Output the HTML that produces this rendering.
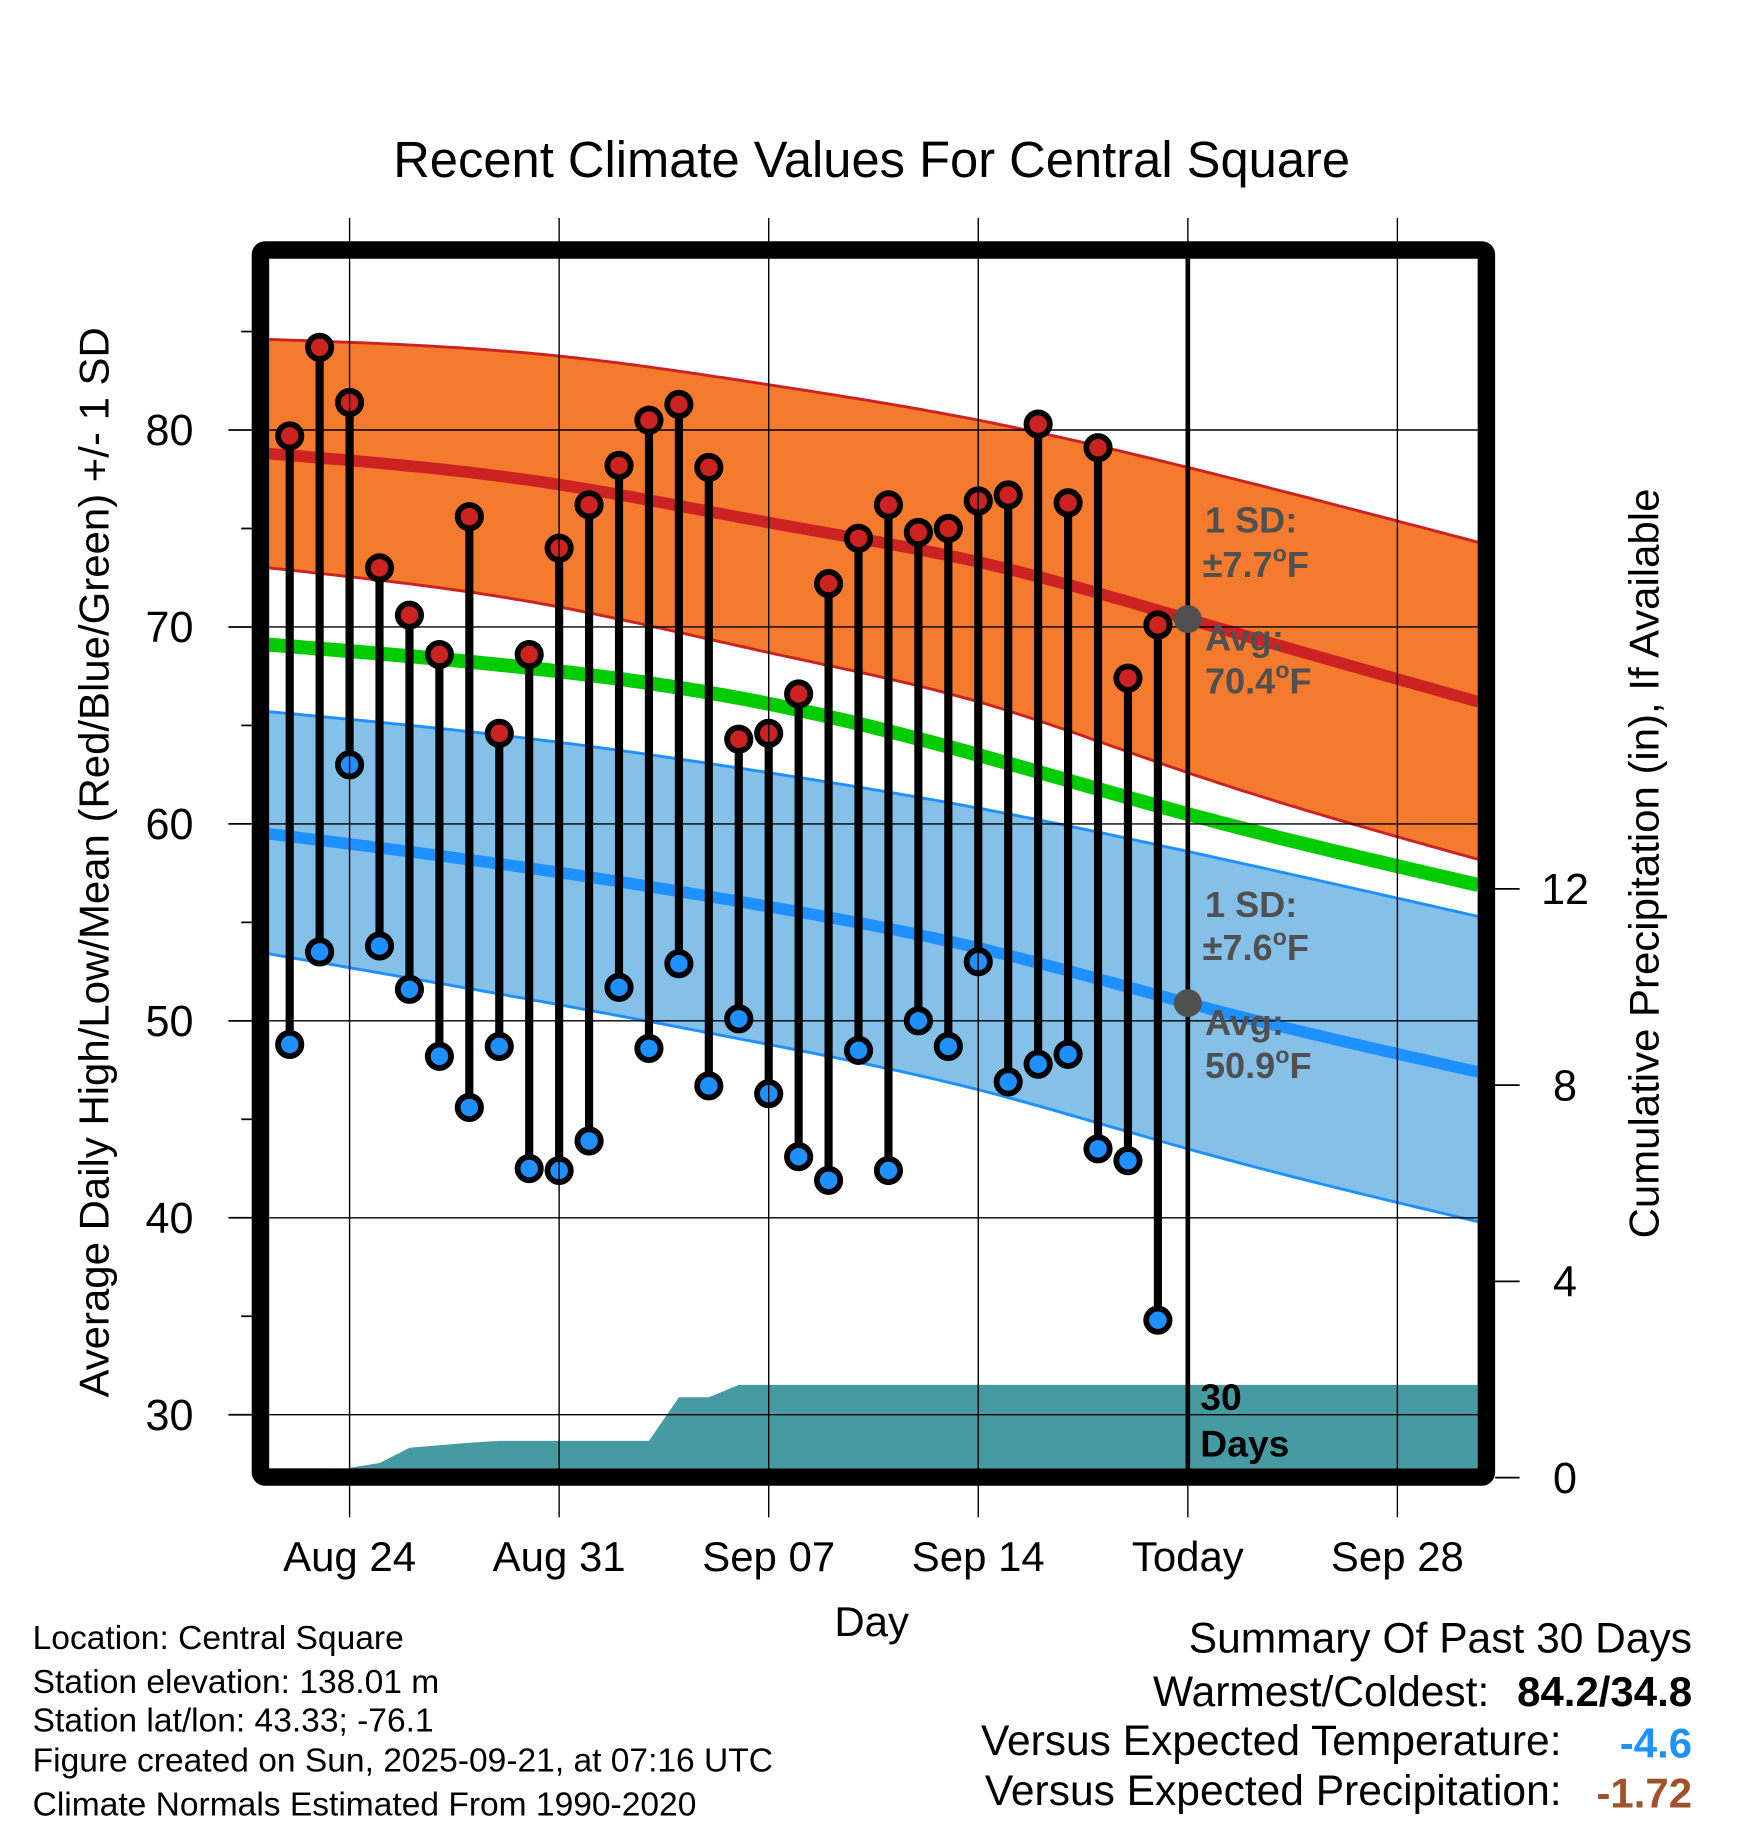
<!DOCTYPE html>
<html><head><meta charset="utf-8"><style>
html,body{margin:0;padding:0;background:#fff}
svg{display:block}
text{font-family:"Liberation Sans",Arial,sans-serif}
</style></head><body>
<svg id="chart" width="1748" height="1828" viewBox="0 0 1500 1568.65" xmlns="http://www.w3.org/2000/svg">
<g id="layer"></g>
</svg>
<script>
// ---- data ----
const dayLabels = ["Aug 22","Aug 23","Aug 24","Aug 25","Aug 26","Aug 27","Aug 28","Aug 29","Aug 30","Aug 31","Sep 01","Sep 02","Sep 03","Sep 04","Sep 05","Sep 06","Sep 07","Sep 08","Sep 09","Sep 10","Sep 11","Sep 12","Sep 13","Sep 14","Sep 15","Sep 16","Sep 17","Sep 18","Sep 19","Sep 20"];
const highs = [79.7,84.2,81.4,73.0,70.6,68.6,75.6,64.6,68.6,74.0,76.2,78.2,80.5,81.3,78.1,64.3,64.6,66.6,72.2,74.5,76.2,74.8,75.0,76.4,76.7,80.3,76.3,79.1,67.4,70.1];
const lows = [48.8,53.5,63.0,53.8,51.6,48.2,45.6,48.7,42.5,42.4,43.9,51.7,48.6,52.9,46.7,50.1,46.3,43.1,41.9,48.5,42.4,50.0,48.7,53.0,46.9,47.8,48.3,43.5,42.9,34.8];
const precipCum = [0,0,0.2,0.3,0.61,0.66,0.71,0.75,0.75,0.75,0.75,0.75,0.75,1.64,1.64,1.89,1.89,1.89,1.89,1.89,1.89,1.89,1.89,1.89,1.89,1.89,1.89,1.89,1.89,1.89];
const normDays = [-0.7,8.7,16,23,30,39.7];
const hiUpper = [84.6,83.8,82.3,80.5,78.1,74.3];
const hiAvg = [78.8,77.3,75.3,73.3,70.4,66.2];
const hiLower = [73.0,71.1,68.7,66.2,62.6,58.2];
const meanNorm = [69.1,67.8,66.1,63.5,60.5,56.9];
const loUpper = [65.7,64.2,62.6,60.8,58.6,55.3];
const loAvg = [59.5,57.6,55.8,53.7,50.9,47.4];
const loLower = [53.4,50.9,48.8,46.5,43.5,39.8];
const xTickDays = [2,9,16,23,30,37];
const xTickLabels = ["Aug 24","Aug 31","Sep 07","Sep 14","Today","Sep 28"];
const yTicks = [30,40,50,60,70,80];
const yMinor = [35,45,55,65,75,85];
const pTicks = [0,4,8,12];

// ---- axes ----
const L=231,R=1268,T=222,B=1260;
const x = d => 248.6 + d*25.69;
const y = v => 369 - (v-80)*16.9;
const yp = p => 1268 - p*42.1;
const NS="http://www.w3.org/2000/svg";
const layer=document.getElementById('layer');
function mk(tag,attrs,parent){const e=document.createElementNS(NS,tag);for(const k in attrs)e.setAttribute(k,attrs[k]);(parent||layer).appendChild(e);return e;}
function spline(xs,ys){
  const n=xs.length-1,h=[],al=[],l=[1],mu=[0],z=[0],c=new Array(n+1).fill(0),b=[],d=[];
  for(let i=0;i<n;i++)h.push(xs[i+1]-xs[i]);
  for(let i=1;i<n;i++)al[i]=3/h[i]*(ys[i+1]-ys[i])-3/h[i-1]*(ys[i]-ys[i-1]);
  for(let i=1;i<n;i++){l[i]=2*(xs[i+1]-xs[i-1])-h[i-1]*mu[i-1];mu[i]=h[i]/l[i];z[i]=(al[i]-h[i-1]*z[i-1])/l[i];}
  l[n]=1;z[n]=0;
  for(let j=n-1;j>=0;j--){c[j]=z[j]-mu[j]*c[j+1];b[j]=(ys[j+1]-ys[j])/h[j]-h[j]*(c[j+1]+2*c[j])/3;d[j]=(c[j+1]-c[j])/(3*h[j]);}
  return t=>{let j=0;while(j<n-1&&t>xs[j+1])j++;const dx=t-xs[j];return ys[j]+b[j]*dx+c[j]*dx*dx+d[j]*dx*dx*dx;};
}
function curve(days,vals){
  const f=spline(days,vals),pts=[];
  const a=days[0],bb=days[days.length-1];
  for(let i=0;i<=200;i++){const t=a+(bb-a)*i/200;pts.push([x(t),y(f(t))]);}
  return pts;
}
const ps=p=>p.map(q=>q[0].toFixed(1)+','+q[1].toFixed(1)).join(' ');

const clip=mk('clipPath',{id:'pc'});mk('rect',{x:L,y:T,width:R-L,height:B-T},clip);
const plot=mk('g',{'clip-path':'url(#pc)'});



const hu=curve(normDays,hiUpper),hl=curve(normDays,hiLower),lu=curve(normDays,loUpper),ll=curve(normDays,loLower);
let e=mk('polygon',{points:ps(hu.concat(hl.slice().reverse())),fill:'#f47a2e'},plot);


e=mk('polygon',{points:ps(lu.concat(ll.slice().reverse())),fill:'#84c0e8'},plot);


[[hu,'#cc2222',2.5,'high-upper-line'],[hl,'#cc2222',2.5,'high-lower-line'],[lu,'#1e90ff',2.5,'low-upper-line'],[ll,'#1e90ff',2.5,'low-lower-line'],
 [curve(normDays,hiAvg),'#cc2222',10,'avg-high-line'],[curve(normDays,meanNorm),'#00cc00',12,'avg-mean-line'],[curve(normDays,loAvg),'#1e90ff',10,'avg-low-line']].forEach(a=>{
  const l=mk('polyline',{points:ps(a[0]),fill:'none',stroke:a[1],'stroke-width':a[2]},plot);
  
  
});
let pp=[[x(0),yp(0)]];
precipCum.forEach((v,i)=>pp.push([x(i),yp(v)]));
pp.push([R+5,yp(precipCum[precipCum.length-1])]);pp.push([R+5,yp(0)]);
e=mk('polygon',{points:ps(pp),fill:'#469aa2'},plot);


yTicks.forEach(v=>{const g=mk('line',{x1:L,x2:R,y1:y(v),y2:y(v),stroke:'#000','stroke-width':1.2},plot);

});
xTickDays.forEach(d=>{const g=mk('line',{x1:x(d),x2:x(d),y1:187,y2:1302,stroke:'#000','stroke-width':1.2});

});
e=mk('line',{x1:x(30),x2:x(30),y1:T,y2:B,stroke:'#000','stroke-width':4});


highs.forEach((h,i)=>{
  const s=mk('line',{x1:x(i),x2:x(i),y1:y(h),y2:y(lows[i]),stroke:'#000','stroke-width':7},plot);
  
  
});
highs.forEach((h,i)=>{
  const c=mk('circle',{cx:x(i),cy:y(h),r:10,fill:'#cc2222',stroke:'#000','stroke-width':5},plot);
  
  
  const d=mk('circle',{cx:x(i),cy:y(lows[i]),r:10,fill:'#1e90ff',stroke:'#000','stroke-width':5},plot);
  
  
});
e=mk('circle',{cx:x(30),cy:y(70.4),r:12,fill:'#505050'});


e=mk('circle',{cx:x(30),cy:y(50.9),r:12,fill:'#505050'});


e=mk('rect',{x:223.5,y:214.5,width:1052,height:1053,fill:'none',stroke:'#000','stroke-width':15,rx:4});


yTicks.forEach(v=>{const t=mk('line',{x1:196,x2:216,y1:y(v),y2:y(v),stroke:'#000','stroke-width':1.5});


const tx=mk('text',{x:166,y:y(v)+13,'font-size':37,'text-anchor':'end'});tx.textContent=v;

});
yMinor.forEach(v=>{const t=mk('line',{x1:207,x2:216,y1:y(v),y2:y(v),stroke:'#000','stroke-width':1.5});

});
pTicks.forEach(p=>{const t=mk('line',{x1:1283,x2:1304,y1:yp(p),y2:yp(p),stroke:'#000','stroke-width':1.5});


const tx=mk('text',{x:1343,y:yp(p)+13,'font-size':37,'text-anchor':'middle'});tx.textContent=p;

});
xTickDays.forEach((d,i)=>{const tx=mk('text',{x:x(d),y:1348,'font-size':36,'text-anchor':'middle'});tx.textContent=xTickLabels[i];

});
</script>
<script>
(function(){
const layer=document.getElementById('layer');
const NS="http://www.w3.org/2000/svg";
function t(txt,attrs,name){const e=document.createElementNS(NS,'text');for(const k in attrs)e.setAttribute(k,attrs[k]);e.innerHTML=txt;


layer.appendChild(e);return e;}
t('Recent Climate Values For Central Square',{x:748,y:152,'font-size':43.5,'text-anchor':'middle'},'chart-title');
t('Average Daily High/Low/Mean (Red/Blue/Green) +/- 1 SD',{x:0,y:0,'font-size':36,'text-anchor':'middle',transform:'translate(93,740) rotate(-90)'},'y-axis-title');
t('Cumulative Precipitation (in), If Available',{x:0,y:0,'font-size':36,'text-anchor':'middle',transform:'translate(1423,741) rotate(-90)'},'precip-axis-title');
t('Day',{x:748,y:1404,'font-size':36,'text-anchor':'middle'},'x-axis-title');
const g='#505050';
t('1 SD:',{x:1034,y:457,'font-size':31,'font-weight':'bold',fill:g},'high-sd-label');
t('±7.7<tspan dy="-13" font-size="20">o</tspan><tspan dy="13">F</tspan>',{x:1032,y:495,'font-size':31,'font-weight':'bold',fill:g},'high-sd-value');
t('Avg:',{x:1034,y:558,'font-size':31,'font-weight':'bold',fill:g},'avg-high-label');
t('70.4<tspan dy="-13" font-size="20">o</tspan><tspan dy="13">F</tspan>',{x:1034,y:595,'font-size':31,'font-weight':'bold',fill:g},'avg-high-value');
t('1 SD:',{x:1034,y:787,'font-size':31,'font-weight':'bold',fill:g},'low-sd-label');
t('±7.6<tspan dy="-13" font-size="20">o</tspan><tspan dy="13">F</tspan>',{x:1032,y:824,'font-size':31,'font-weight':'bold',fill:g},'low-sd-value');
t('Avg:',{x:1034,y:888,'font-size':31,'font-weight':'bold',fill:g},'avg-low-label');
t('50.9<tspan dy="-13" font-size="20">o</tspan><tspan dy="13">F</tspan>',{x:1034,y:925,'font-size':31,'font-weight':'bold',fill:g},'avg-low-value');
t('30',{x:1030,y:1210,'font-size':32,'font-weight':'bold'},'days-count-label');
t('Days',{x:1030,y:1250,'font-size':32,'font-weight':'bold'},'days-label');
const info=['Location: Central Square','Station elevation: 138.01 m','Station lat/lon: 43.33; -76.1','Figure created on Sun, 2025-09-21, at 07:16 UTC','Climate Normals Estimated From 1990-2020'];
const iy=[1415,1453,1486,1520,1558];
info.forEach((s,i)=>t(s,{x:28,y:iy[i],'font-size':28.8},'station-info-line'));
t('Summary Of Past 30 Days',{x:1452,y:1418,'font-size':36.5,'text-anchor':'end'},'summary-title');
t('Warmest/Coldest:',{x:1278,y:1464,'font-size':36.5,'text-anchor':'end'},'warmest-coldest-label');
t('84.2/34.8',{x:1452,y:1464,'font-size':36,'text-anchor':'end','font-weight':'bold'},'warmest-coldest-value');
t('Versus Expected Temperature:',{x:1340,y:1506,'font-size':36.5,'text-anchor':'end'},'temp-anomaly-label');
t('-4.6',{x:1452,y:1508,'font-size':36,'text-anchor':'end','font-weight':'bold',fill:'#1e90ff'},'temp-anomaly-value');
t('Versus Expected Precipitation:',{x:1340,y:1549,'font-size':36.5,'text-anchor':'end'},'precip-anomaly-label');
t('-1.72',{x:1452,y:1551,'font-size':36,'text-anchor':'end','font-weight':'bold',fill:'#a0522d'},'precip-anomaly-value');
})();
</script>
</body></html>
